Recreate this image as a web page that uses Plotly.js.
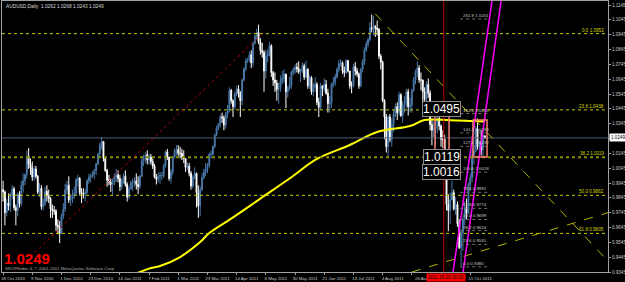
<!DOCTYPE html>
<html><head><meta charset="utf-8">
<script src="https://cdn.plot.ly/plotly-3.0.1.min.js"></script>
<style>html,body{margin:0;padding:0;background:#000;}#chart{width:625px;height:282px;}</style>
</head><body><div id="chart"></div>
<script>
// ---- Daily AUDUSD bars, 18 Oct 2010 .. 21 Oct 2011 ----
const firstOpen = 0.9900;
const closeOct10 = [0.9885,0.9745,0.9810,0.9790,0.9860,0.9905,0.9780,0.9760,0.9870,0.9805];
const highOct10  = [0.9960,0.9895,0.9840,0.9875,0.9880,0.9930,0.9920,0.9800,0.9880,0.9890];
const lowOct10   = [0.9820,0.9660,0.9720,0.9760,0.9750,0.9835,0.9760,0.9660,0.9720,0.9780];
const closeNov10 = [0.9930,0.9960,1.0000,1.0125,1.0070,1.0045,0.9985,1.0040,0.9990,0.9885,0.9910,0.9785,0.9805,0.9890,0.9860,0.9840,0.9770,0.9760,0.9755,0.9660,0.9650,0.9605];
const highNov10  = [0.9960,1.0010,1.0010,1.0165,1.0180,1.0110,1.0090,1.0060,1.0060,1.0000,0.9945,0.9930,0.9840,0.9920,0.9930,0.9900,0.9850,0.9800,0.9790,0.9770,0.9700,0.9690];
const lowNov10   = [0.9790,0.9880,0.9930,0.9975,1.0040,1.0000,0.9960,0.9960,0.9975,0.9870,0.9850,0.9765,0.9760,0.9790,0.9820,0.9810,0.9710,0.9710,0.9730,0.9620,0.9600,0.9540];
const closeDec10 = [0.9725,0.9770,0.9900,0.9930,0.9830,0.9835,0.9865,0.9875,0.9965,0.9975,0.9880,0.9870,0.9870,0.9880,0.9960,0.9985,0.9990,1.0005,1.0030,1.0075,1.0140,1.0200,1.0225];
const highDec10  = [0.9740,0.9810,0.9940,0.9960,0.9990,0.9870,0.9900,0.9920,0.9980,1.0000,0.9985,0.9910,0.9910,0.9905,0.9970,1.0005,1.0010,1.0025,1.0040,1.0080,1.0150,1.0215,1.0255];
const lowDec10   = [0.9600,0.9700,0.9750,0.9870,0.9810,0.9790,0.9810,0.9840,0.9860,0.9920,0.9860,0.9810,0.9840,0.9820,0.9870,0.9940,0.9950,0.9980,0.9970,1.0000,1.0065,1.0120,1.0170];
const closeJan11 = [1.0110,1.0030,0.9965,0.9950,0.9935,0.9950,0.9985,1.0000,0.9975,0.9920,0.9965,0.9990,0.9935,0.9850,0.9905,0.9945,0.9950,0.9960,0.9935,0.9920,0.9990];
const highJan11  = [1.0215,1.0120,1.0040,1.0000,0.9975,0.9975,1.0010,1.0040,1.0030,1.0000,0.9975,1.0010,1.0030,0.9950,0.9925,0.9960,0.9975,0.9985,1.0010,0.9990,1.0000];
const lowJan11   = [1.0090,1.0020,0.9920,0.9930,0.9885,0.9860,0.9930,0.9950,0.9950,0.9890,0.9900,0.9940,0.9920,0.9820,0.9835,0.9900,0.9890,0.9920,0.9900,0.9870,0.9905];
const closeFeb11 = [1.0095,1.0115,1.0135,1.0100,1.0120,1.0090,1.0060,0.9985,0.9970,0.9990,0.9995,0.9995,1.0060,1.0155,1.0120,0.9975,1.0020,1.0120,1.0165,1.0170];
const highFeb11  = [1.0110,1.0135,1.0150,1.0165,1.0145,1.0140,1.0110,1.0075,1.0005,1.0015,1.0020,1.0020,1.0075,1.0165,1.0175,1.0120,1.0040,1.0130,1.0180,1.0200];
const lowFeb11   = [0.9985,1.0060,1.0080,1.0070,1.0070,1.0070,1.0040,0.9975,0.9935,0.9950,0.9940,0.9965,0.9980,1.0050,1.0100,0.9960,0.9940,1.0000,1.0110,1.0130];
const closeMar11 = [1.0145,1.0145,1.0120,1.0110,1.0050,1.0060,1.0010,0.9925,0.9985,1.0010,0.9880,0.9790,0.9900,0.9980,1.0020,1.0040,1.0065,1.0140,1.0140,1.0190,1.0270,1.0320,1.0345];
const highMar11  = [1.0200,1.0190,1.0175,1.0165,1.0110,1.0085,1.0080,1.0025,1.0000,1.0050,1.0015,0.9930,0.9920,1.0010,1.0040,1.0080,1.0080,1.0150,1.0165,1.0200,1.0275,1.0330,1.0350];
const lowMar11   = [1.0125,1.0110,1.0100,1.0080,1.0020,1.0030,0.9990,0.9900,0.9910,0.9970,0.9780,0.9710,0.9720,0.9890,0.9970,0.9990,1.0010,1.0050,1.0110,1.0130,1.0180,1.0260,1.0300];
const closeApr11 = [1.0390,1.0385,1.0335,1.0410,1.0430,1.0570,1.0500,1.0460,1.0545,1.0580,1.0550,1.0500,1.0640,1.0715,1.0770,1.0780,1.0810,1.0755,1.0885,1.0935,1.0960];
const highApr11  = [1.0405,1.0420,1.0400,1.0425,1.0470,1.0590,1.0580,1.0510,1.0560,1.0600,1.0605,1.0565,1.0650,1.0725,1.0785,1.0790,1.0830,1.0840,1.0900,1.0945,1.0985];
const lowApr11   = [1.0320,1.0350,1.0300,1.0310,1.0380,1.0420,1.0480,1.0390,1.0440,1.0530,1.0520,1.0390,1.0470,1.0630,1.0700,1.0755,1.0760,1.0720,1.0730,1.0880,1.0910];
const closeMay11 = [1.0895,1.0840,1.0825,1.0700,1.0800,1.0820,1.0870,1.0690,1.0640,1.0620,1.0575,1.0580,1.0630,1.0650,1.0680,1.0560,1.0585,1.0605,1.0690,1.0710,1.0725,1.0715];
const highMay11  = [1.1012,1.0920,1.0890,1.0840,1.0840,1.0845,1.0895,1.0880,1.0700,1.0690,1.0640,1.0620,1.0670,1.0700,1.0710,1.0650,1.0600,1.0660,1.0700,1.0725,1.0745,1.0755];
const lowMay11   = [1.0880,1.0810,1.0790,1.0560,1.0650,1.0760,1.0800,1.0660,1.0600,1.0560,1.0500,1.0480,1.0560,1.0610,1.0620,1.0450,1.0520,1.0570,1.0580,1.0670,1.0680,1.0690];
const closeJun11 = [1.0695,1.0700,1.0735,1.0660,1.0710,1.0600,1.0655,1.0560,1.0590,1.0610,1.0490,1.0455,1.0600,1.0580,1.0610,1.0550,1.0480,1.0490,1.0610,1.0625,1.0660,1.0710];
const highJun11  = [1.0765,1.0715,1.0760,1.0750,1.0770,1.0720,1.0670,1.0665,1.0620,1.0660,1.0625,1.0520,1.0620,1.0605,1.0650,1.0640,1.0580,1.0530,1.0620,1.0660,1.0680,1.0725];
const lowJun11   = [1.0680,1.0625,1.0685,1.0640,1.0650,1.0580,1.0580,1.0540,1.0530,1.0560,1.0470,1.0390,1.0440,1.0530,1.0560,1.0540,1.0420,1.0420,1.0450,1.0590,1.0600,1.0650];
const closeJul11 = [1.0750,1.0755,1.0700,1.0690,1.0770,1.0700,1.0600,1.0600,1.0730,1.0700,1.0680,1.0600,1.0710,1.0760,1.0840,1.0880,1.0910,1.0990,1.0985,1.1000,1.0990];
const highJul11  = [1.0775,1.0780,1.0765,1.0730,1.0780,1.0775,1.0700,1.0630,1.0750,1.0760,1.0720,1.0690,1.0720,1.0780,1.0860,1.0900,1.0925,1.1030,1.1080,1.1070,1.1010];
const lowJul11   = [1.0690,1.0730,1.0680,1.0660,1.0680,1.0690,1.0580,1.0550,1.0590,1.0670,1.0660,1.0580,1.0590,1.0690,1.0740,1.0830,1.0860,1.0900,1.0960,1.0940,1.0930];
const closeAug11 = [1.0980,1.0800,1.0760,1.0500,1.0390,1.0190,1.0390,1.0240,1.0340,1.0410,1.0460,1.0420,1.0540,1.0400,1.0470,1.0480,1.0560,1.0460,1.0470,1.0570,1.0640,1.0690,1.0720];
const highAug11  = [1.1040,1.0990,1.0815,1.0770,1.0510,1.0410,1.0400,1.0410,1.0380,1.0440,1.0480,1.0490,1.0560,1.0550,1.0500,1.0530,1.0580,1.0580,1.0520,1.0580,1.0660,1.0710,1.0765];
const lowAug11   = [1.0940,1.0780,1.0710,1.0490,1.0240,1.0150,1.0120,1.0220,1.0190,1.0290,1.0390,1.0370,1.0400,1.0390,1.0350,1.0420,1.0450,1.0400,1.0420,1.0420,1.0560,1.0610,1.0660];
const closeSep11 = [1.0640,1.0640,1.0560,1.0510,1.0610,1.0550,1.0340,1.0300,1.0310,1.0320,1.0380,1.0330,1.0240,1.0240,1.0050,0.9800,0.9760,0.9830,0.9880,0.9770,0.9800,0.9670];
const highSep11  = [1.0740,1.0690,1.0610,1.0590,1.0630,1.0650,1.0570,1.0380,1.0360,1.0380,1.0400,1.0400,1.0340,1.0300,1.0270,1.0060,0.9870,0.9880,0.9960,0.9900,0.9850,0.9820];
const lowSep11   = [1.0620,1.0570,1.0490,1.0450,1.0480,1.0520,1.0300,1.0200,1.0250,1.0200,1.0280,1.0300,1.0190,1.0180,1.0020,0.9760,0.9620,0.9670,0.9830,0.9760,0.9730,0.9650];
const closeOct11 = [0.9510,0.9610,0.9700,0.9780,0.9740,0.9930,0.9980,1.0130,1.0160,1.0310,1.0190,1.0220,1.0170,1.0262,1.0249];
const highOct11  = [0.9700,0.9630,0.9720,0.9820,0.9840,0.9950,1.0010,1.0170,1.0200,1.0330,1.0380,1.0230,1.0300,1.0280,1.0268];
const lowOct11   = [0.9500,0.9386,0.9490,0.9660,0.9700,0.9790,0.9890,0.9950,1.0070,1.0150,1.0170,1.0120,1.0130,1.0120,1.0243];

// x-axis tick labels (every 16 bars); the 19 Sep label is hidden under the red time tag, "26 Aug" is cut by it
const tickLabels = ['18 Oct 2010','9 Nov 2010','1 Dec 2010','23 Dec 2010','14 Jan 2011','7 Feb 2011','1 Mar 2011','23 Mar 2011','14 Apr 2011','6 May 2011','30 May 2011','21 Jun 2011','13 Jul 2011','4 Aug 2011','26 Aug','','11 Oct 2011'];
const tickBars = [0,16,32,48,64,80,96,112,128,144,160,176,192,208,224,240,256];
const priceTicks = [0.9345,0.9445,0.9545,0.9645,0.9745,0.9845,0.9945,1.0045,1.0145,1.0245,1.0345,1.0445,1.0545,1.0645,1.0745,1.0845,1.0945,1.1045,1.1145];

// 200-day moving average, read at points
const maBar = [70,75,80,86,97,108,113,125,141,157,172,190,205,223,231,245,257,264];
const maVal = [0.9320,0.9345,0.9368,0.9385,0.9446,0.9547,0.9608,0.9705,0.9840,0.9975,1.0107,1.0201,1.0289,1.0329,1.0370,1.0368,1.0363,1.0360];

// Fibonacci retracement
const fibLevels = ['0.0','23.6','38.2','50.0','61.8'];
const fibPrices = [1.0952,1.0438,1.0119,0.9862,0.9605];
// Fibonacci expansion
const expLevels = ['0.0','23.6','38.2','50.0','61.8','78.6','100.0','127.2','141.4','161.8','261.8'];
const expPrices = [0.9380,0.9531,0.9624,0.9699,0.9774,0.9882,1.0018,1.0192,1.0283,1.0413,1.1051];

const lastPrice = 1.0249;
const bigLabels = ['1.0495','1.0119','1.0016'];
const bigLabelY = [1.0445,1.0117,1.0016];

// ---- assemble ----
const close = [].concat(closeOct10,closeNov10,closeDec10,closeJan11,closeFeb11,closeMar11,closeApr11,closeMay11,closeJun11,closeJul11,closeAug11,closeSep11,closeOct11);
const high  = [].concat(highOct10,highNov10,highDec10,highJan11,highFeb11,highMar11,highApr11,highMay11,highJun11,highJul11,highAug11,highSep11,highOct11);
const low   = [].concat(lowOct10,lowNov10,lowDec10,lowJan11,lowFeb11,lowMar11,lowApr11,lowMay11,lowJun11,lowJul11,lowAug11,lowSep11,lowOct11);
const open = close.map((c,i)=> i===0 ? firstOpen : close[i-1]);
const xs = close.map((c,i)=>i);

const XMIN=-0.6, XMAX=331.5, YMIN=0.9345, YMAX=1.1172;
const F='Liberation Sans, Arial, sans-serif';

const traces = [
  {type:'candlestick', x:xs, open:open, high:high, low:low, close:close,
   increasing:{line:{color:'#4a78a8',width:1}, fillcolor:'#4a78a8'},
   decreasing:{line:{color:'#ffffff',width:1}, fillcolor:'#ffffff'},
   whiskerwidth:0, hoverinfo:'skip', showlegend:false},
  {type:'scatter', mode:'lines', x:maBar, y:maVal, line:{color:'#ffff00',width:2, shape:'spline'}, hoverinfo:'skip', showlegend:false}
];

const shapes = [];
const annotations = [];
fibLevels.forEach((lv,k)=>{
  const isMid = lv==='38.2';
  shapes.push({type:'line', xref:'paper', x0:0, x1:1, yref:'y', y0:fibPrices[k], y1:fibPrices[k],
    line:{color: isMid ? '#8a8a00' : '#c8c800', width: isMid?2:1, dash:'dot'}});
  annotations.push({xref:'x', x:330.5, yref:'y', y:fibPrices[k], xanchor:'right', yanchor:'bottom', showarrow:false,
    text: lv+' '+fibPrices[k].toFixed(4), font:{family:F,size:4.6,color:'#d8d800'}, yshift:-1});
});
shapes.push({type:'line', xref:'paper', x0:0, x1:1, yref:'y', y0:lastPrice, y1:lastPrice, line:{color:'#4c5f78',width:1}});
shapes.push({type:'line', xref:'x', yref:'y', x0:-42, y0:0.8774, x1:142, y1:fibPrices[0], line:{color:'#b00000',width:1,dash:'dot'}});
shapes.push({type:'line', xref:'x', yref:'y', x0:204, y0:1.1085, x1:331.5, y1:0.9419, line:{color:'#b4b400',width:1,dash:'dash'}});
shapes.push({type:'line', xref:'x', yref:'y', x0:224, y0:YMIN, x1:331.5, y1:0.9745, line:{color:'#b4b400',width:1,dash:'dash'}});
shapes.push({type:'line', xref:'x', yref:'paper', x0:241.5, x1:241.5, y0:0, y1:1, line:{color:'#c00000',width:1}});
shapes.push({type:'line', xref:'x', yref:'y', x0:246.6, y0:YMIN, x1:268, y1:1.1179, line:{color:'#ff00ff',width:1.5}});
shapes.push({type:'line', xref:'x', yref:'y', x0:252.1, y0:YMIN, x1:273, y1:1.1179, line:{color:'#ff00ff',width:1.5}});
shapes.push({type:'rect', xref:'x', yref:'y', x0:236.7, x1:244.4, y0:1.0134, y1:1.0403, line:{color:'#fa8072',width:1.5}});
shapes.push({type:'rect', xref:'x', yref:'y', x0:257.5, x1:265.2, y0:1.0120, y1:1.0370, line:{color:'#fa8072',width:1.5}});
expLevels.forEach((lv,k)=>{
  shapes.push({type:'line', xref:'x', yref:'y', x0:250.5, x1:267, y0:expPrices[k], y1:expPrices[k], line:{color:'#707070',width:1,dash:'dot'}});
  annotations.push({xref:'x', x:250.8, yref:'y', y:expPrices[k], xanchor:'left', yanchor:'bottom', showarrow:false,
    text: lv+' '+expPrices[k].toFixed(4), font:{family:F,size:4.4,color:'#c8c8c8'}, yshift:-1});
});
bigLabels.forEach((t,k)=>{
  annotations.push({xref:'x', x:240.3, yref:'y', y:bigLabelY[k], xanchor:'center', yanchor:'middle', showarrow:false,
    text:t, font:{family:F,size:12,color:'#ffffff'}, bgcolor:'#000000', bordercolor:'#8c8c8c', borderwidth:1, borderpad:0});
});
annotations.push({xref:'paper', x:1, yref:'y', y:lastPrice, xanchor:'left', yanchor:'middle', showarrow:false, xshift:1,
  text:lastPrice.toFixed(4), font:{family:F,size:4.6,color:'#000000'}, bgcolor:'#ffffff', borderpad:1});
annotations.push({xref:'x', x:242.5, yref:'paper', y:0, xanchor:'center', yanchor:'top', showarrow:false, yshift:-1,
  text:'2011.09.20 00:00', font:{family:F,size:4.6,color:'#000000'}, bgcolor:'#ff0000', borderpad:1});
annotations.push({xref:'paper', x:0, yref:'paper', y:1, xanchor:'left', yanchor:'top', showarrow:false, xshift:2, yshift:-1,
  text:'AUDUSD,Daily  1.0262 1.0268 1.0243 1.0249', font:{family:F,size:4.8,color:'#d8d8d8'}});
annotations.push({xref:'paper', x:0, yref:'paper', y:0, xanchor:'left', yanchor:'bottom', showarrow:false, xshift:0, yshift:3,
  text:'<b>'+lastPrice.toFixed(4)+'</b>', font:{family:F,size:15,color:'#ff0000'}});
annotations.push({xref:'paper', x:0, yref:'paper', y:0, xanchor:'left', yanchor:'bottom', showarrow:false, xshift:1, yshift:-1,
  text:'SKOPfinder 4, © 2001-2011 MetaQuotes Software Corp.', font:{family:F,size:4.4,color:'#a8a8a8'}});

const layout = {
  width:625, height:282,
  paper_bgcolor:'#000000', plot_bgcolor:'#000000',
  margin:{l:2,r:17,t:1,b:10},
  showlegend:false,
  xaxis:{type:'linear', range:[XMIN,XMAX], rangeslider:{visible:false}, showgrid:false, zeroline:false,
    tickmode:'array', tickvals:tickBars, ticktext:tickLabels, ticks:'outside', ticklen:2, tickcolor:'#a0a0a0',
    tickfont:{family:F,size:4.4,color:'#c8c8c8'}, ticklabelshift:10, ticklabelstandoff:0,
    showline:true, linecolor:'#a0a0a0', linewidth:1, mirror:true},
  yaxis:{side:'right', range:[YMIN,YMAX], showgrid:false, zeroline:false,
    tickmode:'array', tickvals:priceTicks, ticktext:priceTicks.map(v=>v.toFixed(4)), ticks:'outside', ticklen:2, tickcolor:'#a0a0a0',
    tickfont:{family:F,size:4.6,color:'#c8c8c8'}, ticklabelstandoff:0,
    showline:true, linecolor:'#a0a0a0', linewidth:1, mirror:true},
  shapes:shapes, annotations:annotations
};
Plotly.newPlot('chart', traces, layout, {staticPlot:true, displayModeBar:false});
</script></body></html>
